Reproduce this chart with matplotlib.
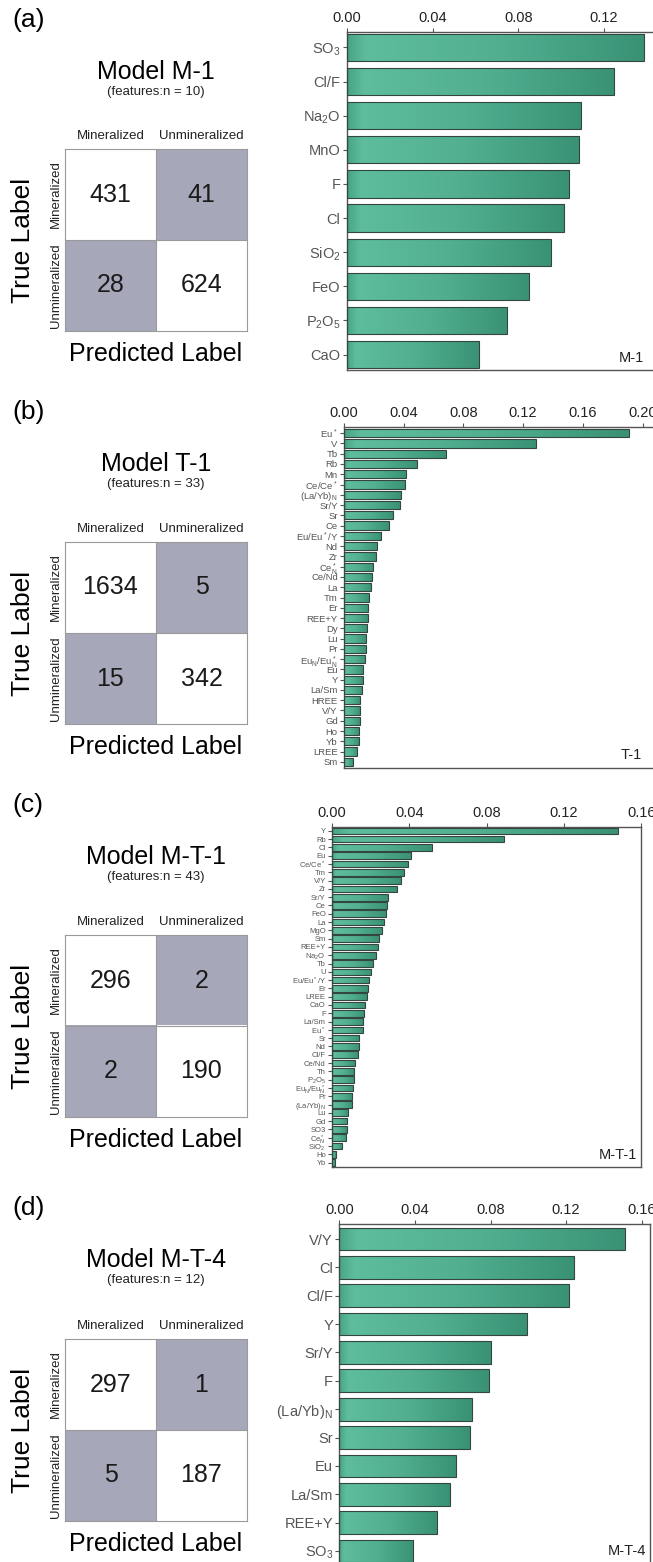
import numpy as np
import matplotlib
matplotlib.use('Agg')
import matplotlib.pyplot as plt
from matplotlib.colors import ListedColormap, LinearSegmentedColormap
from matplotlib.ticker import FormatStrFormatter

plt.rcParams['font.family'] = ['Liberation Sans', 'DejaVu Sans']
plt.rcParams['mathtext.fontset'] = 'custom'
plt.rcParams['mathtext.rm'] = 'Liberation Sans'
plt.rcParams['mathtext.default'] = 'regular'

# ─── Data ────────────────────────────────────────────────────────────────────
panel_letters = ['(a)', '(b)', '(c)', '(d)']
model_names = ['M-1', 'T-1', 'M-T-1', 'M-T-4']
n_features = [10, 33, 43, 12]
class_names = ['Mineralized', 'Unmineralized']

cm_m1 = [[431, 41], [28, 624]]
cm_t1 = [[1634, 5], [15, 342]]
cm_mt1 = [[296, 2], [2, 190]]
cm_mt4 = [[297, 1], [5, 187]]

m1_features = ['SO$_3$', 'Cl/F', 'Na$_2$O', 'MnO', 'F', 'Cl', 'SiO$_2$', 'FeO',
               'P$_2$O$_5$', 'CaO']
m1_importance = [0.1386, 0.1246, 0.1091, 0.1085, 0.1038, 0.1013, 0.0951, 0.0851,
                 0.0746, 0.0618]

t1_features = ['Eu$^*$', 'V', 'Tb', 'Rb', 'Mn', 'Ce/Ce$^*$', '(La/Yb)$_N$', 'Sr/Y',
               'Sr', 'Ce', 'Eu/Eu$^*$/Y', 'Nd', 'Zr', 'Ce$^*_N$', 'Ce/Nd', 'La',
               'Tm', 'Er', 'REE+Y', 'Dy', 'Lu', 'Pr', 'Eu$_N$/Eu$^*_N$', 'Eu', 'Y',
               'La/Sm', 'HREE', 'V/Y', 'Gd', 'Ho', 'Yb', 'LREE', 'Sm']
t1_importance = [0.1907, 0.1286, 0.0683, 0.0489, 0.0415, 0.0411, 0.0384, 0.0375,
                 0.0330, 0.0299, 0.0250, 0.0223, 0.0214, 0.0197, 0.0186, 0.0184,
                 0.0165, 0.0163, 0.0159, 0.0155, 0.0147, 0.0145, 0.0141, 0.0127,
                 0.0127, 0.0121, 0.0107, 0.0107, 0.0105, 0.0098, 0.0098, 0.0089,
                 0.0058]

mt1_features = ['Y', 'Rb', 'Cl', 'Eu', 'Ce/Ce$^*$', 'Tm', 'V/Y', 'Zr', 'Sr/Y', 'Ce',
                'FeO', 'La', 'MgO', 'Sm', 'REE+Y', 'Na$_2$O', 'Tb', 'U',
                'Eu/Eu$^*$/Y', 'Er', 'LREE', 'CaO', 'F', 'La/Sm', 'Eu$^*$', 'Sr',
                'Nd', 'Cl/F', 'Ce/Nd', 'Th', 'P$_2$O$_5$', 'Eu$_N$/Eu$^*_N$', 'Pr',
                '(La/Yb)$_N$', 'Lu', 'Gd', 'SO3', 'Ce$^*_N$', 'SiO$_2$', 'Ho', 'Yb']
mt1_importance = [0.1482, 0.0890, 0.0516, 0.0409, 0.0392, 0.0371, 0.0359, 0.0335,
                  0.0288, 0.0285, 0.0282, 0.0269, 0.0260, 0.0242, 0.0236, 0.0226,
                  0.0214, 0.0202, 0.0191, 0.0186, 0.0183, 0.0169, 0.0167, 0.0162,
                  0.0162, 0.0140, 0.0140, 0.0135, 0.0119, 0.0114, 0.0114, 0.0109,
                  0.0105, 0.0105, 0.0084, 0.0079, 0.0077, 0.0074, 0.0053, 0.0019,
                  0.0015]

mt4_features = ['V/Y', 'Cl', 'Cl/F', 'Y', 'Sr/Y', 'F', '(La/Yb)$_N$', 'Sr', 'Eu',
                'La/Sm', 'REE+Y', 'SO$_3$']
mt4_importance = [0.1512, 0.1242, 0.1217, 0.0991, 0.0803, 0.0792, 0.0702, 0.0692,
                  0.0616, 0.0586, 0.0515, 0.0392]

cms = [cm_m1, cm_t1, cm_mt1, cm_mt4]
features = [m1_features, t1_features, mt1_features, mt4_features]
importances = [m1_importance, t1_importance, mt1_importance, mt4_importance]

# ─── Layout (pixels) ─────────────────────────────────────────────────────────
W, H = 653, 1562
label_y = [20, 412, 805, 1208]
grid_top = [149, 542, 935, 1339]
GRID_L, GRID_S = 65, 182
# (left, top, bottom, px per 0.04, xmax, last tick, pad, label size)
bar_boxes = [
    (346.7, 32, 370, 85.8, 0.1435, 0.12, 0.45, 10.5),
    (344.0, 427, 768, 59.7, 0.22, 0.20, 0.60, 6.8),
    (332.0, 826.7, 1166.7, 77.3, 0.16, 0.16, 0.50, 5.5),
    (339.3, 1224, 1566, 75.6, 0.1644, 0.16, 0.53, 10.5),
]
tag_pos = [(631.7, 358), (631.7, 755), (618, 1155), (626.7, 1551)]

OFF_GREY = '#a6a8ba'
LINE_GREY = '#9a9a9a'
SPINE = '#555555'
bar_cmap = LinearSegmentedColormap.from_list(
    'bar', [(0, '#48a486'), (0.06, '#5ebd9d'), (0.5, '#52b091'), (1, '#3a9275')])

fig = plt.figure(figsize=(W / 100, H / 100), dpi=100)


def px_axes(left, top, right, bottom):
    return fig.add_axes([left / W, 1 - bottom / H, (right - left) / W,
                         (bottom - top) / H])


def fig_text(x, y, s, **kw):
    fig.text(x / W, 1 - y / H, s, **kw)


def draw_confusion(i):
    gt = grid_top[i]
    ly = label_y[i]
    cx = GRID_L + GRID_S / 2

    fig_text(12, ly, panel_letters[i], fontsize=19, ha='left', va='center')
    fig_text(cx, ly + 52, f'Model {model_names[i]}', fontsize=18,
             ha='center', va='center')
    fig_text(cx, ly + 72, f'(features:n = {n_features[i]})', fontsize=9.5,
             ha='center', va='center', color='#222222')

    ax = px_axes(GRID_L, gt, GRID_L + GRID_S, gt + GRID_S)
    ax.imshow(np.eye(2), cmap=ListedColormap([OFF_GREY, 'white']),
              vmin=0, vmax=1, aspect='auto')
    cm = np.array(cms[i])
    for r in range(2):
        for c in range(2):
            ax.text(c, r, str(cm[r, c]), ha='center', va='center',
                    fontsize=18, color='#1a1a1a')
    ax.axhline(0.5, color=LINE_GREY, lw=0.8)
    ax.axvline(0.5, color=LINE_GREY, lw=0.8)
    ax.set_xticks([])
    ax.set_yticks([])
    for sp in ax.spines.values():
        sp.set_color(LINE_GREY)
        sp.set_linewidth(0.8)

    for k, name in enumerate(class_names):
        fig_text(GRID_L + GRID_S * (k + 0.5) / 2, gt - 13, name, fontsize=9.5,
                 ha='center', va='center', color='#222222')
        fig_text(56, gt + GRID_S * (k + 0.5) / 2, name, fontsize=9.5,
                 rotation=90, ha='center', va='center', color='#222222')

    fig_text(23, gt + GRID_S / 2, 'True Label', fontsize=19, rotation=90,
             ha='center', va='center')
    fig_text(cx, gt + GRID_S + 23, 'Predicted Label', fontsize=18,
             ha='center', va='center')


def draw_importance(i):
    left, top, bottom, px04, xmax, last_tick, pad, lsize = bar_boxes[i]
    right = left + xmax / 0.04 * px04
    ax = px_axes(left, top, right, bottom)

    vals = importances[i]
    n = len(vals)
    y = np.arange(n)
    bars = ax.barh(y, vals, height=0.8, color='none', edgecolor='#34463f',
                   linewidth=0.8, zorder=3)
    grad = np.tile(np.linspace(0, 1, 128), (2, 1))
    for b in bars:
        x0, y0 = b.get_xy()
        im = ax.imshow(grad, cmap=bar_cmap, vmin=0, vmax=1, aspect='auto',
                       extent=(x0, x0 + b.get_width(), y0 + b.get_height(), y0),
                       interpolation='bilinear', zorder=2)
        im.set_clip_path(b)

    ax.set_xlim(0, xmax)
    ax.set_ylim(n - 1 + pad, -pad)
    ax.set_yticks(y)
    ax.set_yticklabels(features[i], fontsize=lsize, color='#222222')
    ax.xaxis.tick_top()
    ax.set_xticks(np.arange(0, last_tick + 1e-9, 0.04))
    ax.xaxis.set_major_formatter(FormatStrFormatter('%.2f'))
    ax.tick_params(axis='x', labelsize=10.5, colors=SPINE, labelcolor='#222222',
                   length=3, width=0.8, pad=2)
    ax.tick_params(axis='y', colors=SPINE, length=3, width=0.8, pad=1.5)
    for sp in ax.spines.values():
        sp.set_color(SPINE)
        sp.set_linewidth(1.0)

    tx, ty = tag_pos[i]
    fig_text(tx, ty, model_names[i], fontsize=10.5, ha='center', va='center',
             color='#222222')


for i in range(4):
    draw_confusion(i)
    draw_importance(i)

fig.savefig('out.png', dpi=100)
